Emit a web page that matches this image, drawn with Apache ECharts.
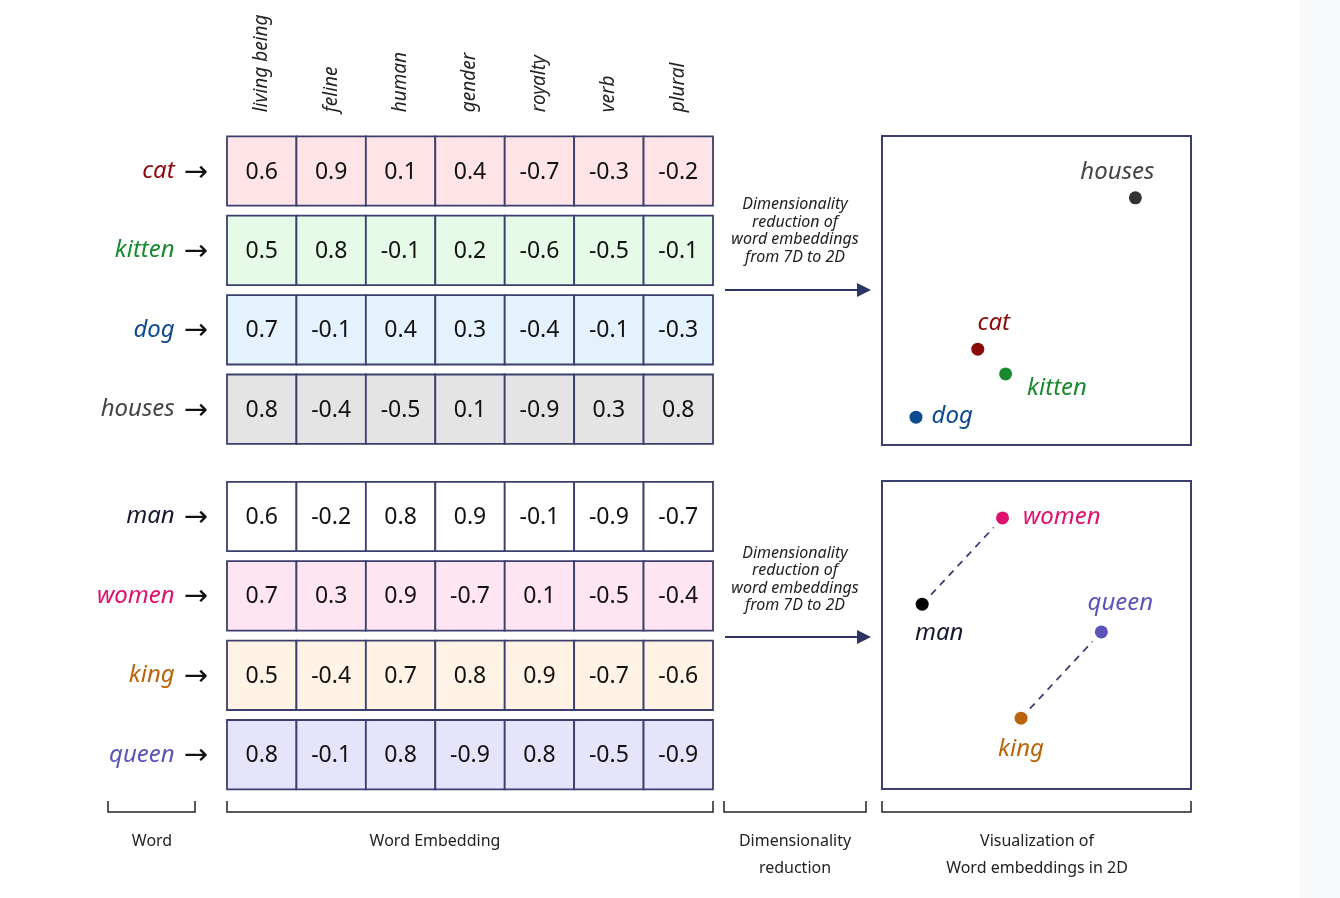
<!DOCTYPE html>
<html>
<head>
<meta charset="utf-8">
<script src="https://cdn.jsdelivr.net/npm/echarts@6/dist/echarts.min.js"></script>
<style>
html,body{margin:0;padding:0;background:#fff;}
#chart{width:1340px;height:898px;}
</style>
</head>
<body>
<div id="chart"></div>
<script>
// ---------------- DATA ----------------
const features = ['living being', 'feline', 'human', 'gender', 'royalty', 'verb', 'plural'];
const wordsA = ['cat', 'kitten', 'dog', 'houses'];
const wordsB = ['man', 'women', 'king', 'queen'];

const cat    = [0.6, 0.9, 0.1, 0.4, -0.7, -0.3, -0.2];
const kitten = [0.5, 0.8, -0.1, 0.2, -0.6, -0.5, -0.1];
const dog    = [0.7, -0.1, 0.4, 0.3, -0.4, -0.1, -0.3];
const houses = [0.8, -0.4, -0.5, 0.1, -0.9, 0.3, 0.8];
const man    = [0.6, -0.2, 0.8, 0.9, -0.1, -0.9, -0.7];
const women  = [0.7, 0.3, 0.9, -0.7, 0.1, -0.5, -0.4];
const king   = [0.5, -0.4, 0.7, 0.8, 0.9, -0.7, -0.6];
const queen  = [0.8, -0.1, 0.8, -0.9, 0.8, -0.5, -0.9];

// 2D projections (same order as wordsA / wordsB)
const coordsA = [[3.1, 3.1], [4.0, 2.3], [1.1, 0.9], [8.2, 8.0]];
const coordsB = [[1.3, 6.0], [3.9, 8.8], [4.5, 2.3], [7.1, 5.1]];
const analogyPairs = [['man', 'women'], ['king', 'queen']];

const reductionText = ['Dimensionality', 'reduction of', 'word embeddings', 'from 7D to 2D'];
const bottomLabels = [['Word'], ['Word Embedding'], ['Dimensionality', 'reduction'], ['Visualization of', 'Word embeddings in 2D']];

// ---------------- STYLES ----------------
const wordColor = {
  cat: '#8b0a0a', kitten: '#1a8a30', dog: '#0e4a90', houses: '#444444',
  man: '#15182e', women: '#e0106e', king: '#b9650c', queen: '#5b54b8'
};
const cellFill = {
  cat: '#ffe4e7', kitten: '#e5fbe7', dog: '#e4f2fd', houses: '#e4e4e4',
  man: '#ffffff', women: '#ffe4f1', king: '#fef3e4', queen: '#e5e4fb'
};
const dotColor = {
  cat: '#8b0a0a', kitten: '#1a8a30', dog: '#0e4a90', houses: '#333333',
  man: '#000000', women: '#e0106e', king: '#b9650c', queen: '#5b54b8'
};
const navy = '#3b3f6e';
const FONT = '"Noto Sans", "Open Sans", sans-serif';

const rowsA = {cat, kitten, dog, houses};
const rowsB = {man, women, king, queen};

function cellData(words, rows) {
  const out = [];
  words.forEach((w, yi) => rows[w].forEach((v, xi) => out.push([xi, yi, v])));
  return out;
}

function cellRender(words) {
  return function (params, api) {
    const c = api.coord([api.value(0), api.value(1)]);
    const s = api.size([1, 1]);
    const w = s[0], h = s[1] - 10;
    const word = words[api.value(1)];
    const v = api.value(2);
    return {
      type: 'group',
      children: [
        {type: 'rect', shape: {x: c[0] - w / 2, y: c[1] - h / 2, width: w, height: h},
         style: {fill: cellFill[word], stroke: navy, lineWidth: 1.8}},
        {type: 'text', style: {text: v.toFixed(1), x: c[0], y: c[1] + 1, align: 'center', verticalAlign: 'middle',
         font: '23px ' + FONT, fill: '#111'}}
      ]
    };
  };
}

function richFor(words) {
  const r = {arr: {fontFamily: 'DejaVu Sans', fontSize: 29, color: '#111', padding: [4, 0, 0, 0]}};
  words.forEach(w => { r[w] = {fontFamily: FONT, fontStyle: 'italic', fontSize: 24, color: wordColor[w], padding: [0, 9, 0, 0]}; });
  return r;
}

const labelOpts = {
  cat:    {position: 'top', offset: [16, -3]},
  kitten: {position: 'right', offset: [10, 14]},
  dog:    {position: 'right', offset: [4, -1]},
  houses: {position: 'top', offset: [-18, -2]},
  man:    {position: 'bottom', offset: [17, 5]},
  women:  {position: 'right', offset: [9, -1]},
  king:   {position: 'bottom', offset: [0, 7]},
  queen:  {position: 'top', offset: [19, -5]}
};

function scatterData(words, coords) {
  return words.map((w, i) => ({
    name: w, value: coords[i],
    itemStyle: {color: dotColor[w], opacity: 1},
    label: Object.assign({show: true, formatter: w, color: wordColor[w], fontFamily: FONT, fontStyle: 'italic', fontSize: 24}, labelOpts[w])
  }));
}

const linkData = analogyPairs.map(p => {
  const a = coordsB[wordsB.indexOf(p[0])], b = coordsB[wordsB.indexOf(p[1])];
  return [a[0], a[1], b[0], b[1]];
});

// ---------------- LAYOUT ----------------
const tableLeft = 227, tableW = 486;
const rowPitch = 79.4;
const gridATop = 131.3, gridBTop = 476.8;
const boxLeft = 882, boxW = 309;

const option = {
  animation: false,
  backgroundColor: '#ffffff',
  grid: [
    {left: tableLeft, top: gridATop, width: tableW, height: rowPitch * 4},
    {left: tableLeft, top: gridBTop, width: tableW, height: rowPitch * 4},
    {left: boxLeft, top: 136, width: boxW, height: 309, show: true, borderColor: navy, borderWidth: 2, backgroundColor: '#fff'},
    {left: boxLeft, top: 481, width: boxW, height: 308, show: true, borderColor: navy, borderWidth: 2, backgroundColor: '#fff'}
  ],
  xAxis: [
    {gridIndex: 0, type: 'category', data: features, position: 'top',
     axisLine: {show: false}, axisTick: {show: false}, splitLine: {show: false},
     axisLabel: {rotate: -90, margin: 19, fontFamily: FONT, fontStyle: 'italic', fontSize: 19, color: '#222', interval: 0,
                 padding: [0, 0, 0, 0]}},
    {gridIndex: 1, type: 'category', data: features, show: false},
    {gridIndex: 2, type: 'value', min: 0, max: 10, show: false},
    {gridIndex: 3, type: 'value', min: 0, max: 10, show: false}
  ],
  yAxis: [
    {gridIndex: 0, type: 'category', data: wordsA, inverse: true,
     axisLine: {show: false}, axisTick: {show: false}, splitLine: {show: false},
     axisLabel: {margin: 19, formatter: v => `{${v}|${v}}{arr|→}`, rich: richFor(wordsA)}},
    {gridIndex: 1, type: 'category', data: wordsB, inverse: true,
     axisLine: {show: false}, axisTick: {show: false}, splitLine: {show: false},
     axisLabel: {margin: 19, formatter: v => `{${v}|${v}}{arr|→}`, rich: richFor(wordsB)}},
    {gridIndex: 2, type: 'value', min: 0, max: 10, show: false},
    {gridIndex: 3, type: 'value', min: 0, max: 10, show: false}
  ],
  series: [
    {type: 'custom', xAxisIndex: 0, yAxisIndex: 0, data: cellData(wordsA, rowsA), renderItem: cellRender(wordsA)},
    {type: 'custom', xAxisIndex: 1, yAxisIndex: 1, data: cellData(wordsB, rowsB), renderItem: cellRender(wordsB)},
    {type: 'custom', xAxisIndex: 3, yAxisIndex: 3, data: linkData, z: 1,
     renderItem: function (params, api) {
       const p1 = api.coord([api.value(0), api.value(1)]);
       const p2 = api.coord([api.value(2), api.value(3)]);
       const dx = p2[0] - p1[0], dy = p2[1] - p1[1];
       const len = Math.sqrt(dx * dx + dy * dy), g = 13;
       const ux = dx / len, uy = dy / len;
       return {type: 'line', shape: {x1: p1[0] + ux * g, y1: p1[1] + uy * g, x2: p2[0] - ux * g, y2: p2[1] - uy * g},
               style: {stroke: navy, lineWidth: 1.8, lineDash: [7, 6]}};
     }},
    {type: 'scatter', xAxisIndex: 2, yAxisIndex: 2, symbolSize: 13, z: 3, data: scatterData(wordsA, coordsA)},
    {type: 'scatter', xAxisIndex: 3, yAxisIndex: 3, symbolSize: 13, z: 3, data: scatterData(wordsB, coordsB)}
  ],
  graphic: []
};

// right side strip
option.graphic.push({type: 'rect', shape: {x: 1300, y: 0, width: 40, height: 898}, style: {fill: '#f8f9fb'}, silent: true, z: -10});

// reduction texts + arrows
[[231, 290], [579.5, 637]].forEach(([ty, ay]) => {
  option.graphic.push({type: 'text', x: 795, y: ty, style: {text: reductionText.join('\n'), align: 'center', verticalAlign: 'middle',
    font: 'italic 16px ' + FONT, lineHeight: 17.5, fill: '#222'}});
  option.graphic.push({type: 'line', shape: {x1: 725, y1: ay, x2: 860, y2: ay}, style: {stroke: '#2f3466', lineWidth: 2}});
  option.graphic.push({type: 'polygon', shape: {points: [[857, ay - 7], [871, ay], [857, ay + 7]]}, style: {fill: '#2f3466'}});
});

// bottom brackets and labels
const brackets = [[108, 195], [227, 713], [724, 866], [882, 1191]];
const labelCenters = [152, 435, 795, 1037];
brackets.forEach(([x1, x2], i) => {
  option.graphic.push({type: 'polyline', shape: {points: [[x1, 801], [x1, 812], [x2, 812], [x2, 801]]},
    style: {stroke: '#222', lineWidth: 1.5, fill: null}});
  bottomLabels[i].forEach((t, j) => {
    option.graphic.push({type: 'text', x: labelCenters[i], y: 841 + j * 27,
      style: {text: t, align: 'center', verticalAlign: 'middle', font: '16px ' + FONT, fill: '#222'}});
  });
});

const chart = echarts.init(document.getElementById('chart'), null, {renderer: 'canvas'});
chart.setOption(option);
</script>
</body>
</html>
